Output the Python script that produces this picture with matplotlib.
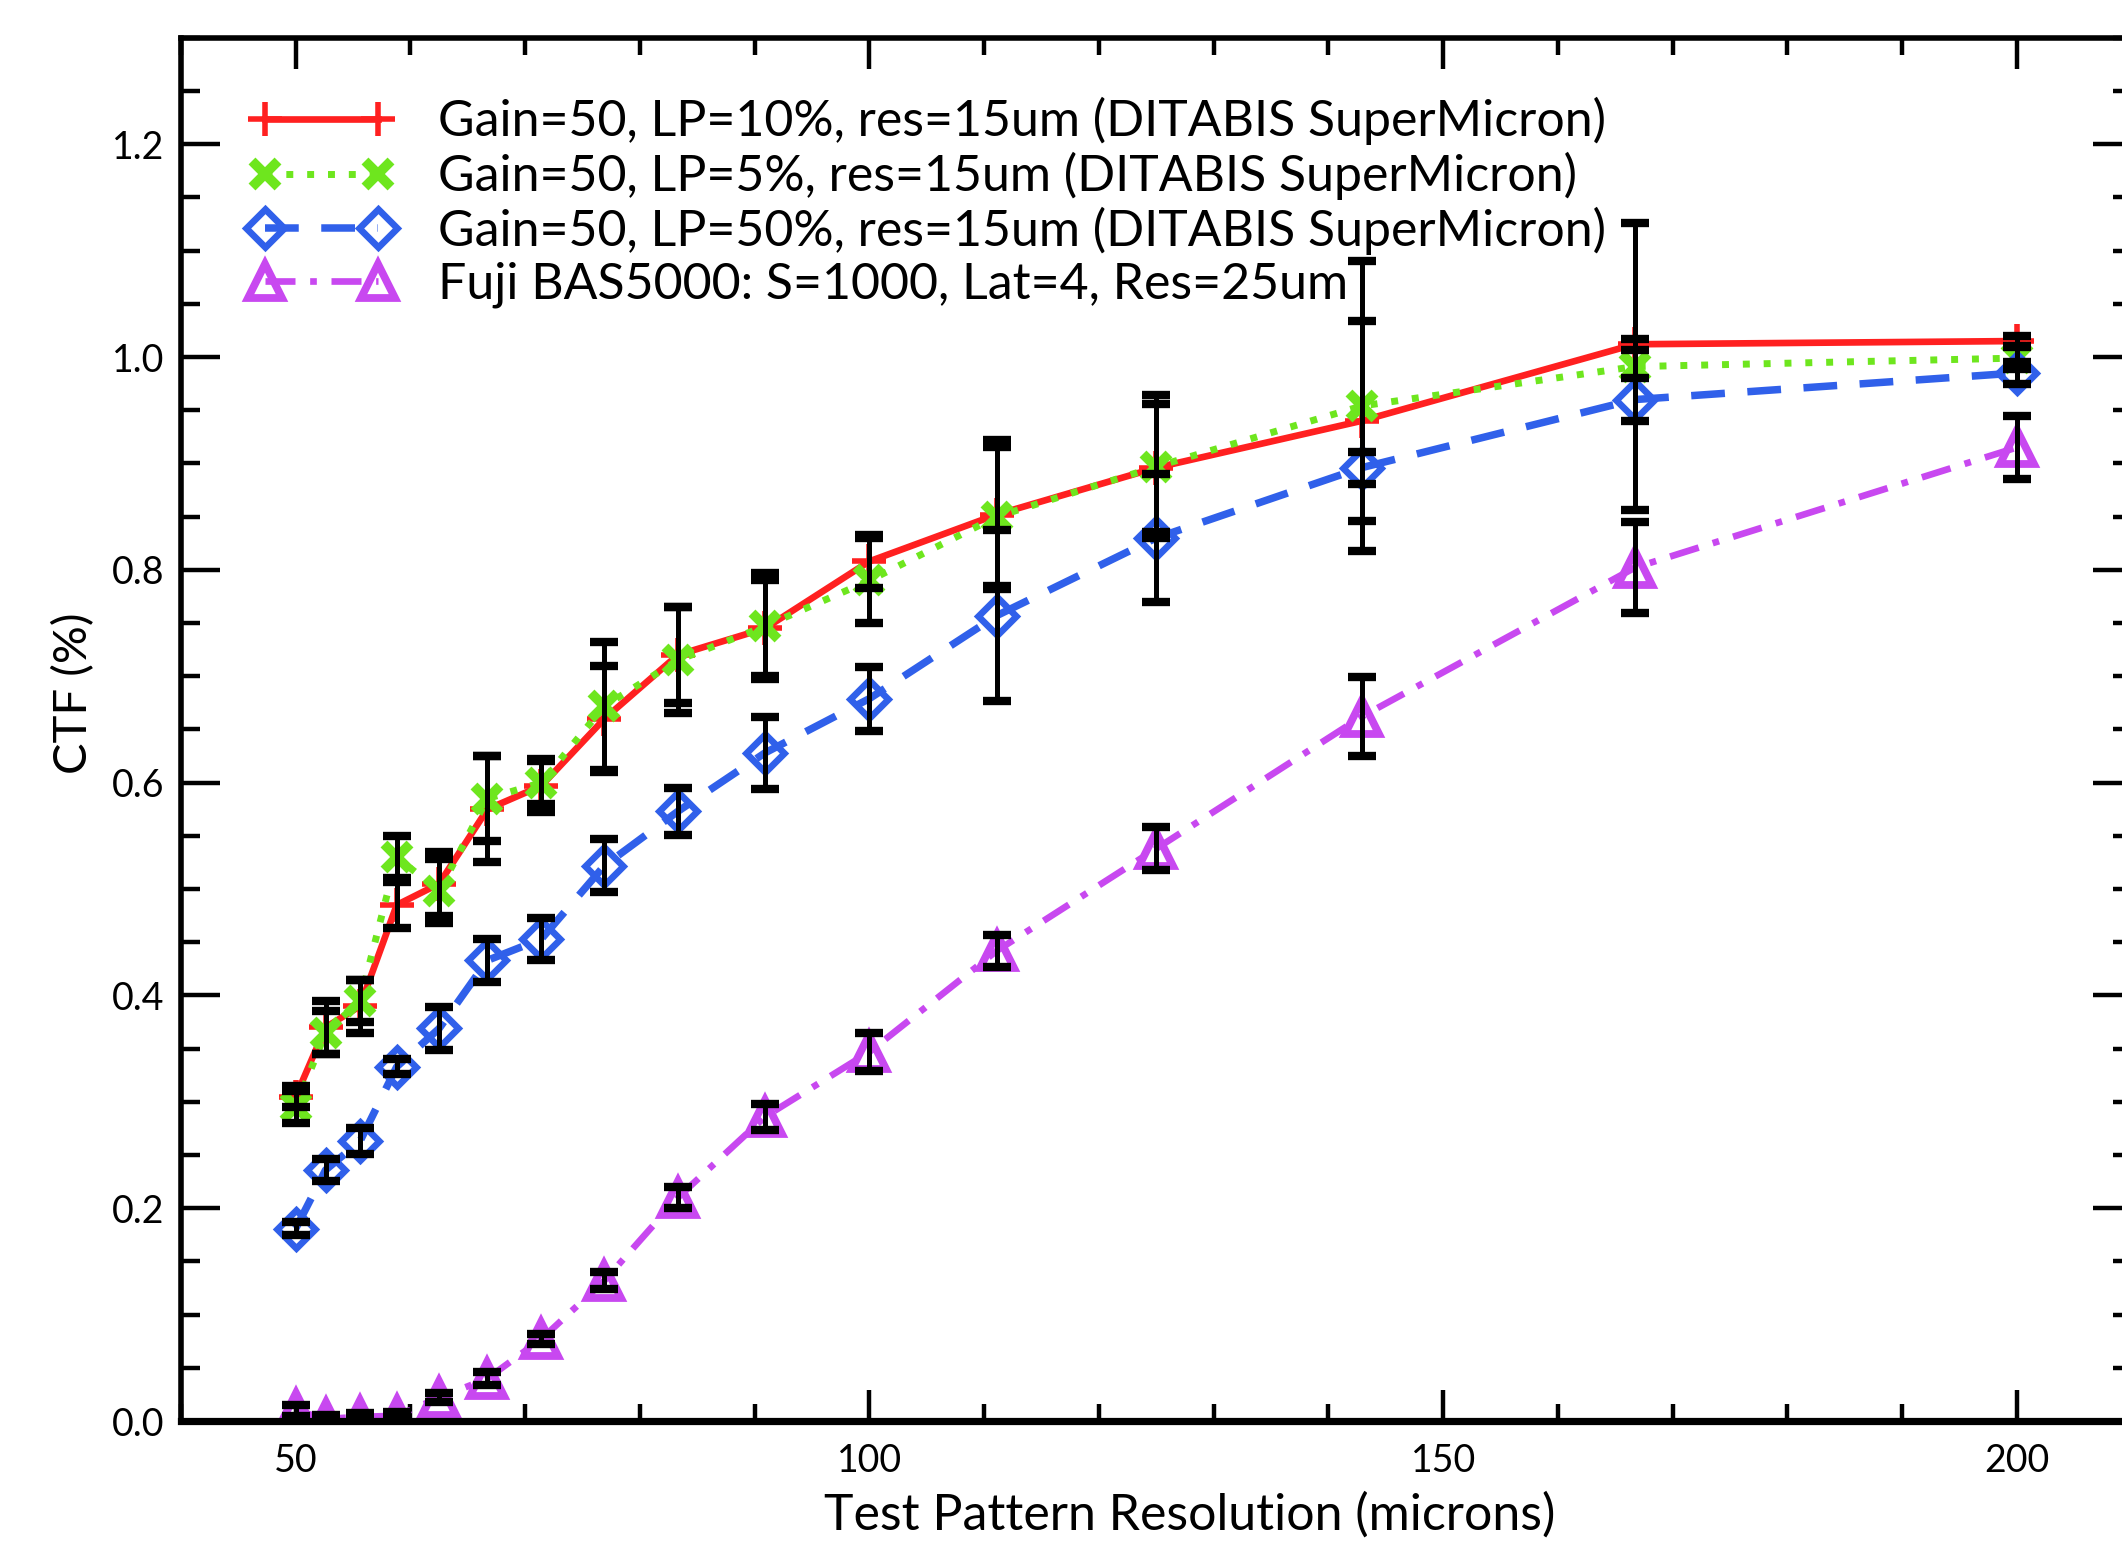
import matplotlib
matplotlib.use("Agg")
import matplotlib.pyplot as plt
from matplotlib.ticker import MultipleLocator

plt.rcParams['font.family'] = ['Lato', 'DejaVu Sans']

# test pattern period in microns
resolution = [50.0, 52.6, 55.6, 58.8, 62.5, 66.7, 71.4, 76.9, 83.3, 90.9,
              100.0, 111.1, 125.0, 142.9, 166.7, 200.0]

# DITABIS SuperMicron, gain 50, LP 10%
ctf_lp10 = [0.305, 0.370, 0.390, 0.485, 0.505, 0.575, 0.597, 0.660, 0.720, 0.745,
            0.808, 0.852, 0.896, 0.940, 1.012, 1.015]
err_lp10 = [0.010, 0.025, 0.025, 0.022, 0.030, 0.050, 0.025, 0.050, 0.045, 0.045,
            0.025, 0.070, 0.060, 0.094, 0.005, 0.005]

# DITABIS SuperMicron, gain 50, LP 5%
ctf_lp5 = [0.295, 0.365, 0.395, 0.530, 0.498, 0.585, 0.600, 0.672, 0.715, 0.747,
           0.790, 0.850, 0.897, 0.954, 0.991, 0.999]
err_lp5 = [0.015, 0.020, 0.020, 0.020, 0.030, 0.040, 0.020, 0.060, 0.050, 0.050,
           0.040, 0.065, 0.067, 0.136, 0.135, 0.010]

# DITABIS SuperMicron, gain 50, LP 50%
ctf_lp50 = [0.181, 0.236, 0.263, 0.333, 0.369, 0.433, 0.453, 0.522, 0.573, 0.628,
            0.679, 0.757, 0.830, 0.896, 0.960, 0.985]
err_lp50 = [0.006, 0.010, 0.012, 0.007, 0.020, 0.020, 0.020, 0.025, 0.022, 0.034,
            0.030, 0.080, 0.060, 0.015, 0.020, 0.010]

# Fuji BAS5000 reference
ctf_fuji = [0.010, 0.002, 0.004, 0.005, 0.022, 0.040, 0.077, 0.132, 0.210, 0.286,
            0.347, 0.442, 0.538, 0.662, 0.802, 0.915]
err_fuji = [0.005, 0.004, 0.004, 0.004, 0.004, 0.006, 0.005, 0.008, 0.010, 0.012,
            0.018, 0.015, 0.020, 0.037, 0.043, 0.030]

labels = ['Gain=50, LP=10%, res=15um (DITABIS SuperMicron)',
          'Gain=50, LP=5%, res=15um (DITABIS SuperMicron)',
          'Gain=50, LP=50%, res=15um (DITABIS SuperMicron)',
          'Fuji BAS5000: S=1000, Lat=4, Res=25um']

fig = plt.figure(figsize=(10.61, 7.715), dpi=200)
ax = fig.add_axes([0.0853, 0.079, 0.9192, 0.8965])

ax.plot(resolution, ctf_lp10, color='#ff2020', lw=2.4, ls='-',
        marker='+', ms=12, mew=2.0, label=labels[0])
ax.plot(resolution, ctf_lp5, color='#6ee61e', lw=2.5, ls=(0, (1, 2.0)),
        marker='x', ms=9.5, mew=3.5, label=labels[1])
ax.plot(resolution, ctf_lp50, color='#3060ea', lw=2.7, ls=(0, (4.5, 3.0)),
        marker='D', ms=9.5, mew=2.4, fillstyle='none', label=labels[2])
ax.plot(resolution, ctf_fuji, color='#c848f0', lw=2.4, ls=(0, (4.5, 2.2, 1.0, 2.2)),
        marker='^', ms=12, mew=2.8, fillstyle='none', label=labels[3])

# error bars drawn in black over every series
for ys, es in [(ctf_lp10, err_lp10), (ctf_lp5, err_lp5),
               (ctf_lp50, err_lp50), (ctf_fuji, err_fuji)]:
    ax.errorbar(resolution, ys, yerr=es, fmt='none', ecolor='black',
                elinewidth=1.8, capsize=5, capthick=3.0, zorder=5)

ax.set_xlim(40, 210)
ax.set_ylim(0, 1.3)

ax.xaxis.set_major_locator(MultipleLocator(50))
ax.xaxis.set_minor_locator(MultipleLocator(10))
ax.yaxis.set_major_locator(MultipleLocator(0.2))
ax.yaxis.set_minor_locator(MultipleLocator(0.05))
ax.yaxis.set_major_formatter(plt.FormatStrFormatter('%.1f'))

ax.tick_params(which='both', direction='in', top=True, right=True, width=1.6,
               labelsize=13.5, colors='black')
ax.tick_params(axis='x', which='major', length=11, pad=8)
ax.tick_params(axis='x', which='minor', length=6)
ax.tick_params(axis='y', which='major', length=14, pad=6)
ax.tick_params(axis='y', which='minor', length=7)

for side in ['left', 'top', 'right']:
    ax.spines[side].set_linewidth(2.0)
ax.spines['bottom'].set_linewidth(2.6)

ax.set_xlabel('Test Pattern Resolution (microns)', fontsize=18, va='center')
ax.set_ylabel('CTF (%)', fontsize=17, va='center')
ax.xaxis.set_label_coords(0.517, -0.068)
ax.yaxis.set_label_coords(-0.055, 0.526)

ax.legend(loc='upper left', bbox_to_anchor=(0.0354, 0.957), frameon=False,
          fontsize=18, numpoints=2, handlelength=2.85, handletextpad=0.9,
          labelspacing=0.13, borderpad=0, borderaxespad=0)

fig.savefig('out.png', dpi=200)
